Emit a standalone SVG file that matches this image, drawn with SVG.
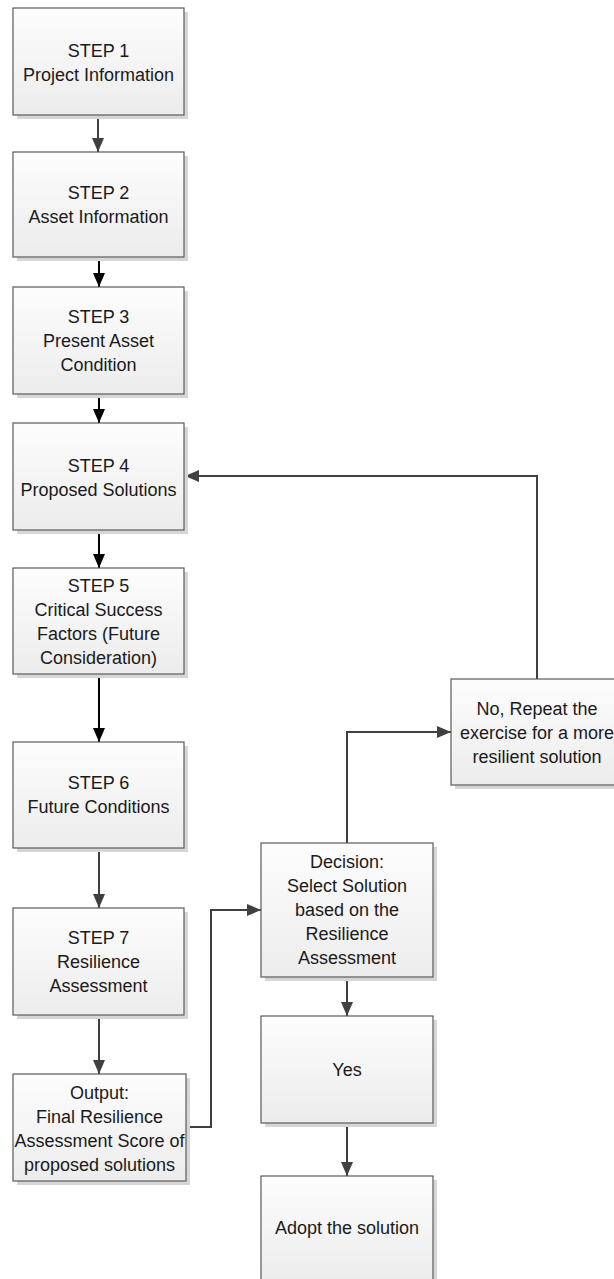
<svg xmlns="http://www.w3.org/2000/svg" width="614" height="1279" viewBox="0 0 614 1279">
  <style>
    .shadow { fill: #d6d6d6; }
    .box { fill: url(#boxFill); stroke: #5a5a5a; stroke-width: 1.2; }
    .label { font-family: "Liberation Sans", Arial, sans-serif; font-size: 18px; fill: #1a1a1a; text-anchor: middle; }
    .link { fill: none; stroke: #404040; stroke-width: 2; }
    .link.dark { stroke: #000000; }
  </style>
  <defs>
    <linearGradient id="boxFill" x1="0" y1="0" x2="0" y2="1">
      <stop offset="0" stop-color="#fdfdfd"/>
      <stop offset="1" stop-color="#ececec"/>
    </linearGradient>
    <marker id="arrowGray" viewBox="0 0 14 12" refX="14" refY="6" markerWidth="14" markerHeight="12" markerUnits="userSpaceOnUse" orient="auto">
      <path d="M0,0 L14,6 L0,12 Z" fill="#404040"/>
    </marker>
    <marker id="arrowBlack" viewBox="0 0 14 12" refX="14" refY="6" markerWidth="14" markerHeight="12" markerUnits="userSpaceOnUse" orient="auto">
      <path d="M0,0 L14,6 L0,12 Z" fill="#000000"/>
    </marker>
  </defs>

  <rect width="614" height="1279" fill="#ffffff"/>

  <!-- connectors -->
  <g id="connectors">
    <path class="link" d="M98,115 V152" marker-end="url(#arrowGray)"/>
    <path class="link dark" d="M99,257 V287" marker-end="url(#arrowBlack)"/>
    <path class="link dark" d="M99,394 V423" marker-end="url(#arrowBlack)"/>
    <path class="link dark" d="M99,530 V568" marker-end="url(#arrowBlack)"/>
    <path class="link dark" d="M99,674 V742" marker-end="url(#arrowBlack)"/>
    <path class="link" d="M99,848 V908" marker-end="url(#arrowGray)"/>
    <path class="link" d="M99,1015 V1074" marker-end="url(#arrowGray)"/>
    <path class="link" d="M186,1127 H211 V910 H261" marker-end="url(#arrowGray)"/>
    <path class="link" d="M347,843 V732 H451" marker-end="url(#arrowGray)"/>
    <path class="link" d="M537,679 V476 H185" marker-end="url(#arrowGray)"/>
    <path class="link" d="M347,977 V1016" marker-end="url(#arrowGray)"/>
    <path class="link" d="M347,1123 V1176" marker-end="url(#arrowGray)"/>
  </g>

  <g id="step1">
    <rect class="shadow" x="17" y="12" width="171" height="107"/>
    <rect class="box" x="13" y="8" width="171" height="107"/>
    <text class="label" x="98.5" y="57">STEP 1</text>
    <text class="label" x="98.5" y="81">Project Information</text>
  </g>

  <g id="step2">
    <rect class="shadow" x="17" y="156" width="171" height="105"/>
    <rect class="box" x="13" y="152" width="171" height="105"/>
    <text class="label" x="98.5" y="199">STEP 2</text>
    <text class="label" x="98.5" y="223">Asset Information</text>
  </g>

  <g id="step3">
    <rect class="shadow" x="17" y="291" width="171" height="107"/>
    <rect class="box" x="13" y="287" width="171" height="107"/>
    <text class="label" x="98.5" y="323">STEP 3</text>
    <text class="label" x="98.5" y="347">Present Asset</text>
    <text class="label" x="98.5" y="371">Condition</text>
  </g>

  <g id="step4">
    <rect class="shadow" x="17" y="427" width="171" height="107"/>
    <rect class="box" x="13" y="423" width="171" height="107"/>
    <text class="label" x="98.5" y="472">STEP 4</text>
    <text class="label" x="98.5" y="496">Proposed Solutions</text>
  </g>

  <g id="step5">
    <rect class="shadow" x="17" y="572" width="171" height="106"/>
    <rect class="box" x="13" y="568" width="171" height="106"/>
    <text class="label" x="98.5" y="592">STEP 5</text>
    <text class="label" x="98.5" y="616">Critical Success</text>
    <text class="label" x="98.5" y="640">Factors (Future</text>
    <text class="label" x="98.5" y="664">Consideration)</text>
  </g>

  <g id="step6">
    <rect class="shadow" x="17" y="746" width="171" height="106"/>
    <rect class="box" x="13" y="742" width="171" height="106"/>
    <text class="label" x="98.5" y="789">STEP 6</text>
    <text class="label" x="98.5" y="813">Future Conditions</text>
  </g>

  <g id="step7">
    <rect class="shadow" x="17" y="912" width="171" height="107"/>
    <rect class="box" x="13" y="908" width="171" height="107"/>
    <text class="label" x="98.5" y="944">STEP 7</text>
    <text class="label" x="98.5" y="968">Resilience</text>
    <text class="label" x="98.5" y="992">Assessment</text>
  </g>

  <g id="output">
    <rect class="shadow" x="17" y="1078" width="173" height="107"/>
    <rect class="box" x="13" y="1074" width="173" height="107"/>
    <text class="label" x="99.5" y="1099">Output:</text>
    <text class="label" x="99.5" y="1123">Final Resilience</text>
    <text class="label" x="99.5" y="1147">Assessment Score of</text>
    <text class="label" x="99.5" y="1171">proposed solutions</text>
  </g>

  <g id="decision">
    <rect class="shadow" x="265" y="847" width="172" height="134"/>
    <rect class="box" x="261" y="843" width="172" height="134"/>
    <text class="label" x="347" y="868">Decision:</text>
    <text class="label" x="347" y="892">Select Solution</text>
    <text class="label" x="347" y="916">based on the</text>
    <text class="label" x="347" y="940">Resilience</text>
    <text class="label" x="347" y="964">Assessment</text>
  </g>

  <g id="repeat">
    <rect class="shadow" x="455" y="683" width="172" height="106"/>
    <rect class="box" x="451" y="679" width="172" height="106"/>
    <text class="label" x="537" y="715">No, Repeat the</text>
    <text class="label" x="537" y="739">exercise for a more</text>
    <text class="label" x="537" y="763">resilient solution</text>
  </g>

  <g id="yes">
    <rect class="shadow" x="265" y="1020" width="172" height="107"/>
    <rect class="box" x="261" y="1016" width="172" height="107"/>
    <text class="label" x="347" y="1076">Yes</text>
  </g>

  <g id="adopt">
    <rect class="shadow" x="265" y="1180" width="172" height="107"/>
    <rect class="box" x="261" y="1176" width="172" height="107"/>
    <text class="label" x="347" y="1234">Adopt the solution</text>
  </g>
</svg>
